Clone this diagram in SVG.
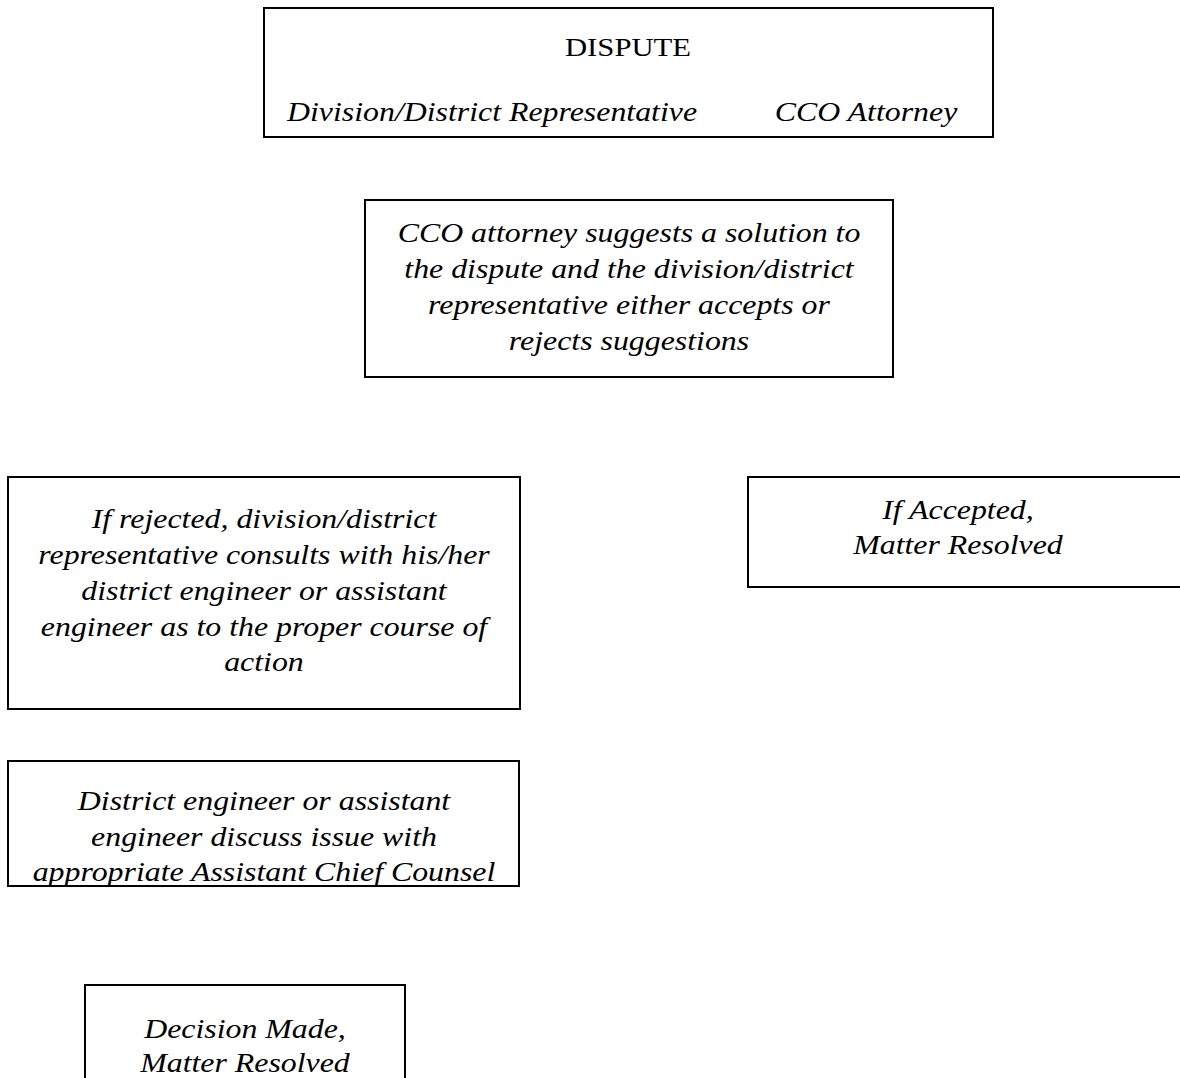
<svg xmlns="http://www.w3.org/2000/svg" width="1180" height="1078" viewBox="0 0 1180 1078">
<style>
.box{fill:#fff;stroke:#000;stroke-width:2}
.t{font-family:"Liberation Serif","Times New Roman",serif;font-size:27px;fill:#000;text-anchor:middle}
.h{font-size:26px}
.i{font-style:italic}
</style>
<rect width="1180" height="1078" fill="#fff"/>
<g id="connectors"></g>
<g id="dispute">
<rect class="box" x="264" y="8" width="729" height="129"/>
<text class="t h" transform="translate(628 56) scale(1.18 1)">DISPUTE</text>
<text class="t i" transform="translate(492 121) scale(1.18 1)">Division/District Representative</text>
<text class="t i" transform="translate(866 121) scale(1.18 1)">CCO Attorney</text>
</g>
<g id="suggest">
<rect class="box" x="365" y="200" width="528" height="177"/>
<text class="t i" transform="translate(629 242) scale(1.18 1)">CCO attorney suggests a solution to</text>
<text class="t i" transform="translate(629 278) scale(1.18 1)">the dispute and the division/district</text>
<text class="t i" transform="translate(629 314) scale(1.18 1)">representative either accepts or</text>
<text class="t i" transform="translate(629 350) scale(1.18 1)">rejects suggestions</text>
</g>
<g id="rejected">
<rect class="box" x="8" y="477" width="512" height="232"/>
<text class="t i" transform="translate(264 528) scale(1.18 1)">If rejected, division/district</text>
<text class="t i" transform="translate(264 564) scale(1.18 1)">representative consults with his/her</text>
<text class="t i" transform="translate(264 600) scale(1.18 1)">district engineer or assistant</text>
<text class="t i" transform="translate(264 636) scale(1.18 1)">engineer as to the proper course of</text>
<text class="t i" transform="translate(264 671) scale(1.18 1)">action</text>
</g>
<g id="accepted">
<rect class="box" x="748" y="477" width="440" height="110"/>
<text class="t i" transform="translate(958 519) scale(1.18 1)">If Accepted,</text>
<text class="t i" transform="translate(958 554) scale(1.18 1)">Matter Resolved</text>
</g>
<g id="discuss">
<rect class="box" x="8" y="761" width="511" height="125"/>
<text class="t i" transform="translate(264 810) scale(1.18 1)">District engineer or assistant</text>
<text class="t i" transform="translate(264 846) scale(1.18 1)">engineer discuss issue with</text>
<text class="t i" transform="translate(264 881) scale(1.18 1)">appropriate Assistant Chief Counsel</text>
</g>
<g id="decision">
<rect class="box" x="85" y="985" width="320" height="110"/>
<text class="t i" transform="translate(245 1038) scale(1.18 1)">Decision Made,</text>
<text class="t i" transform="translate(245 1072) scale(1.18 1)">Matter Resolved</text>
</g>
</svg>
